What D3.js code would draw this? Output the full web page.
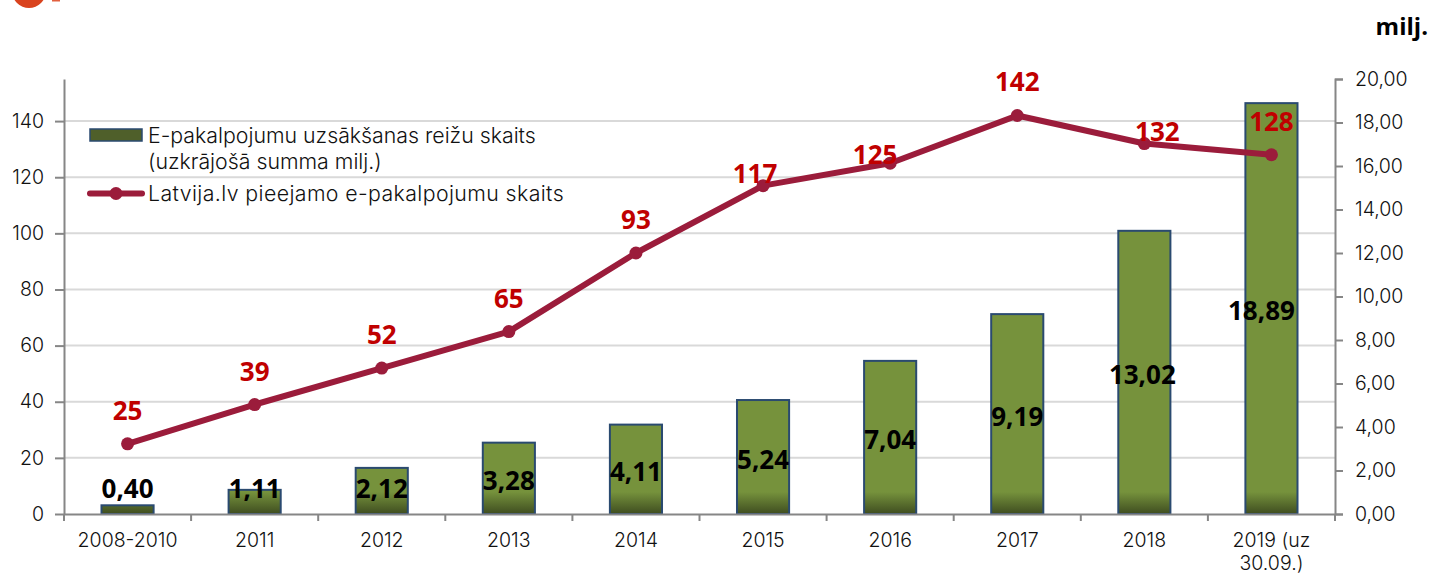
<!DOCTYPE html>
<html lang="lv">
<head>
<meta charset="UTF-8">
<title>E-pakalpojumi</title>
<script src="https://d3js.org/d3.v7.min.js"></script>
<style>
    body, html { margin: 0; background: #fff; overflow: hidden; }
    text { font-family: Inter, Lato, sans-serif; font-weight: 300; fill: #111; }
    .axis path, .axis line { stroke: #868686; stroke-width: 2px; }
    .axis text { font-size: 19.5px; }
    .grid line { stroke: #d9d9d9; stroke-width: 2px; }
    .val { font-family: "Open Sans", sans-serif; font-weight: 700; font-size: 26px; }
</style>
</head>
<body>
<script>
// dati
const categories = ['2008-2010', '2011', '2012', '2013', '2014', '2015', '2016', '2017', '2018', '2019 (uz 30.09.)'];
const startsMillions = [0.40, 1.11, 2.12, 3.28, 4.11, 5.24, 7.04, 9.19, 13.02, 18.89];
const servicesCount = [25, 39, 52, 65, 93, 117, 125, 142, 132, 128];
const leftTicks = [0, 20, 40, 60, 80, 100, 120, 140];
const rightTicks = [0, 2, 4, 6, 8, 10, 12, 14, 16, 18, 20];
const legendBar = ['E-pakalpojumu uzsākšanas reižu skaits', '(uzkrājošā summa milj.)'];
const legendLine = 'Latvija.lv pieejamo e-pakalpojumu skaits';

const comma = d3.format('.2f');
const fmt2 = d => comma(d).replace('.', ',');

const width = 1431, height = 575;
const plotLeft = 64, plotRight = 1335, plotTop = 79, plotBottom = 514;

const svg = d3.select('body').append('svg')
    .attr('width', width).attr('height', height);

const x = d3.scaleBand().domain(categories).range([plotLeft, plotRight])
    .paddingInner(0.59).paddingOuter(0.295);
const yLeft = d3.scaleLinear().domain([0, 155]).range([plotBottom, plotTop]);
const yRight = d3.scaleLinear().domain([0, 20]).range([plotBottom, plotTop]);
const cx = c => x(c) + x.bandwidth() / 2;

// stabiņu gradients
const defs = svg.append('defs');
const grad = defs.append('linearGradient').attr('id', 'barFill')
    .attr('gradientUnits', 'userSpaceOnUse')
    .attr('x1', 0).attr('x2', 0).attr('y1', plotBottom - 22).attr('y2', plotBottom);
grad.append('stop').attr('offset', 0).attr('stop-color', '#76923c');
grad.append('stop').attr('offset', 1).attr('stop-color', '#3f4d20');

// logo fragments augšā
svg.append('circle').attr('cx', 29).attr('cy', -9).attr('r', 17).attr('fill', '#d9431e');
svg.append('rect').attr('x', 52).attr('y', 0).attr('width', 8).attr('height', 1.5).attr('fill', '#e2603f');

svg.append('text').attr('x', 1428).attr('y', 35).attr('text-anchor', 'end')
    .style('font-family', '"Open Sans", sans-serif')
    .style('font-weight', 700).style('font-size', '24px').style('fill', '#000').text('milj.');

// režģis
svg.append('g').attr('class', 'grid').selectAll('line')
    .data(leftTicks.filter(d => d > 0)).enter().append('line')
    .attr('x1', plotLeft).attr('x2', plotRight)
    .attr('y1', d => yLeft(d)).attr('y2', d => yLeft(d));

// stabiņi
svg.append('g').selectAll('rect')
    .data(categories).enter().append('rect')
    .attr('x', d => x(d))
    .attr('width', x.bandwidth())
    .attr('y', (d, i) => yRight(startsMillions[i]))
    .attr('height', (d, i) => plotBottom - yRight(startsMillions[i]))
    .attr('fill', 'url(#barFill)')
    .attr('stroke', '#2a4a70').attr('stroke-width', 2);

// asis
const axisL = d3.axisLeft(yLeft).tickValues(leftTicks).tickSize(9).tickSizeOuter(0).tickPadding(11).tickFormat(d3.format('d'));
svg.append('g').attr('class', 'axis').attr('transform', `translate(${plotLeft},0)`).call(axisL);

const axisR = d3.axisRight(yRight).tickValues(rightTicks).tickSize(8).tickPadding(12).tickFormat(fmt2);
svg.append('g').attr('class', 'axis').attr('transform', `translate(${plotRight},0)`).call(axisR);

const axisB = d3.axisBottom(x).tickSize(0).tickPadding(19);
const gB = svg.append('g').attr('class', 'axis').attr('transform', `translate(0,${plotBottom})`).call(axisB);
gB.selectAll('.tick text').each(function (d) {
    if (d.indexOf('(') < 0) return;
    const parts = d.match(/^(.*\(uz) (.*)$/);
    const t = d3.select(this).text(null);
    t.append('tspan').attr('x', 0).text(parts[1]);
    t.append('tspan').attr('x', 0).attr('dy', 23).text(parts[2]);
});
// iedaļas starp kategorijām
gB.selectAll('.edge').data(categories.concat([null])).enter().append('line')
    .attr('class', 'edge')
    .attr('x1', (d, i) => plotLeft + i * x.step())
    .attr('x2', (d, i) => plotLeft + i * x.step())
    .attr('y1', 0).attr('y2', 7);

// līnija
const line = d3.line().x(d => cx(d)).y((d, i) => yLeft(servicesCount[i]));
svg.append('path').datum(categories)
    .attr('d', line).attr('fill', 'none')
    .attr('stroke', '#9b1c3b').attr('stroke-width', 6).attr('stroke-linejoin', 'round');
svg.append('g').selectAll('circle')
    .data(categories).enter().append('circle')
    .attr('cx', d => cx(d))
    .attr('cy', (d, i) => yLeft(servicesCount[i]))
    .attr('r', 6.5).attr('fill', '#9b1c3b');

// datu etiķetes - stabiņi (pēdējās divas nedaudz pa kreisi)
const barNudge = { '2018': -2, '2019 (uz 30.09.)': -10 };
svg.append('g').selectAll('text')
    .data(categories).enter().append('text')
    .attr('class', 'val')
    .attr('text-anchor', 'middle')
    .attr('x', d => cx(d) + (barNudge[d] || 0))
    .attr('y', (d, i) => Math.min((yRight(startsMillions[i]) + plotBottom) / 2 + 2, 488) + 9.5)
    .style('fill', '#000')
    .text((d, i) => fmt2(startsMillions[i]));

// datu etiķetes - līnija (dažas pabīdītas kā oriģinālā)
const nudge = { '2015': [-8, 21], '2016': [-15, 25], '2018': [13, 21] };
svg.append('g').selectAll('text')
    .data(categories).enter().append('text')
    .attr('class', 'val')
    .attr('text-anchor', 'middle')
    .attr('x', d => cx(d) + (nudge[d] ? nudge[d][0] : 0))
    .attr('y', (d, i) => yLeft(servicesCount[i]) - 24 + (nudge[d] ? nudge[d][1] : 0))
    .style('fill', '#c00000')
    .text((d, i) => servicesCount[i]);

// leģenda
const legend = svg.append('g');
legend.append('rect').attr('x', 90).attr('y', 129).attr('width', 52).attr('height', 12)
    .attr('fill', '#4f5f2a').attr('stroke', '#2a4a70').attr('stroke-width', 1.5);
legend.selectAll('.lb').data(legendBar).enter().append('text').attr('class', 'lb')
    .attr('x', 148).attr('y', (d, i) => 143 + i * 26)
    .style('font-size', '21.3px').text(d => d);
legend.append('line').attr('x1', 90).attr('x2', 142).attr('y1', 193.5).attr('y2', 193.5)
    .attr('stroke', '#9b1c3b').attr('stroke-width', 6).attr('stroke-linecap', 'round');
legend.append('circle').attr('cx', 116).attr('cy', 193.5).attr('r', 6.5).attr('fill', '#9b1c3b');
legend.append('text').attr('x', 148).attr('y', 201).style('font-size', '21.3px')
    .style('letter-spacing', '0.4px').text(legendLine);
</script>
</body>
</html>
